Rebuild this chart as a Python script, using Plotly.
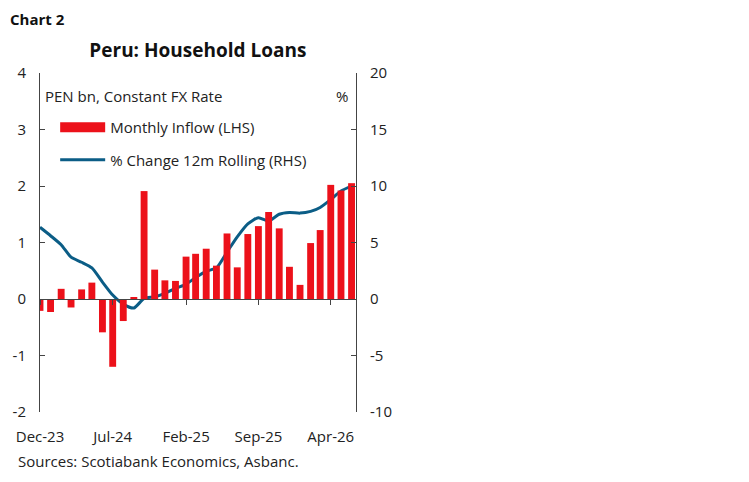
import pandas as pd
import plotly.graph_objects as go

# Monthly data, Dec-23 .. Jun-26
months = pd.date_range("2023-12-01", periods=31, freq="MS")

monthly_inflow = [
    -0.21, -0.23, 0.18, -0.15, 0.17, 0.29, -0.59, -1.20, -0.39, 0.02,
    1.91, 0.52, 0.33, 0.32, 0.75, 0.80, 0.89, 0.59, 1.16, 0.56,
    1.15, 1.29, 1.54, 1.25, 0.57, 0.25, 0.99, 1.22, 2.02, 1.92,
    2.05,
]

pct_change_12m = [
    6.35, 5.6, 4.8, 3.7, 3.25, 2.75, 1.5, 0.35, -0.45, -0.8,
    0.05, 0.2, 0.5, 0.95, 1.3, 1.9, 2.45, 2.75, 4.15, 5.5,
    6.65, 7.2, 6.9, 7.5, 7.65, 7.6, 7.75, 8.1, 8.8, 9.55,
    10.0,
]

lhs_ticks = [-2, -1, 0, 1, 2, 3, 4]
rhs_ticks = [-10, -5, 0, 5, 10, 15, 20]
x_range = ["2023-12-01", "2026-06-14"]

RED = "#EC111A"
BLUE = "#0B5D86"
AXIS = "#444444"
FONT = "Open Sans"

# page body adds an 8px offset, so the plot box is placed 8px up/left
PLOT_W, PLOT_H = 315.7, 339
ML, MT = 32, 65

fig = go.Figure()

# Bars sit on xaxis2 (the axis drawn along the zero line)
fig.add_trace(go.Bar(
    x=months, y=monthly_inflow,
    marker=dict(color=RED, line=dict(width=0)),
    xaxis="x2", yaxis="y",
    showlegend=False,
))

fig.add_trace(go.Scatter(
    x=months, y=pct_change_12m,
    mode="lines",
    line=dict(color=BLUE, width=3, shape="spline", smoothing=0.6),
    xaxis="x", yaxis="y2",
    showlegend=False,
))

# legend-only entries so the symbols look like the reference
fig.add_trace(go.Scatter(
    x=[None], y=[None], mode="lines",
    line=dict(color=RED, width=10),
    name="Monthly Inflow (LHS)", legendgroup="a",
))
fig.add_trace(go.Scatter(
    x=[None], y=[None], mode="lines",
    line=dict(color=BLUE, width=3),
    name="% Change 12m Rolling (RHS)", legendgroup="b",
))

zero_pos = (0 - lhs_ticks[0]) / (lhs_ticks[-1] - lhs_ticks[0])

fig.update_layout(
    width=749, height=482,
    margin=dict(l=ML, r=749 - ML - PLOT_W, t=MT, b=482 - MT - PLOT_H,
                autoexpand=False),
    paper_bgcolor="white", plot_bgcolor="white",
    font=dict(family=FONT, size=15, color="#222222"),
    bargap=0.28,
    xaxis=dict(
        type="date", range=x_range,
        tick0="2023-12-01", dtick="M7", tickformat="%b-%y",
        showline=False, showgrid=False, zeroline=False, ticks="",
        ticklabelstandoff=14, automargin=False,
    ),
    xaxis2=dict(
        type="date", matches="x", overlaying="x",
        anchor="free", position=zero_pos,
        tick0="2023-12-01", dtick="M7",
        showline=True, linecolor=AXIS, linewidth=1,
        ticks="outside", ticklen=5, tickcolor=AXIS,
        showticklabels=False, showgrid=False, zeroline=False,
        automargin=False,
    ),
    yaxis=dict(
        range=[lhs_ticks[0], lhs_ticks[-1]],
        tickvals=lhs_ticks, ticktext=[str(v) for v in lhs_ticks],
        showline=True, linecolor=AXIS, linewidth=1,
        ticks="inside", ticklen=5, tickcolor=AXIS,
        showgrid=False, zeroline=False,
        ticklabelstandoff=10, automargin=False,
    ),
    yaxis2=dict(
        range=[rhs_ticks[0], rhs_ticks[-1]],
        tickvals=rhs_ticks, ticktext=[str(v) for v in rhs_ticks],
        overlaying="y", side="right",
        showline=True, linecolor=AXIS, linewidth=1,
        ticks="inside", ticklen=5, tickcolor=AXIS,
        showgrid=False, zeroline=False,
        ticklabelstandoff=10, automargin=False,
    ),
    legend=dict(
        x=0.048, y=0.888, xanchor="left", yanchor="top",
        bgcolor="rgba(0,0,0,0)", font=dict(size=15),
        itemwidth=45, tracegroupgap=10, traceorder="grouped",
    ),
    title=dict(
        text="<b>Peru: Household Loans</b>",
        x=(ML + PLOT_W / 2) / 749, xanchor="center",
        y=1 - 42 / 482, yanchor="middle",
        font=dict(size=19, color="#111111"),
        automargin=False,
    ),
)

fig.add_annotation(
    text="<b>Chart 2</b>", xref="paper", yref="paper",
    x=-ML / PLOT_W, y=1 + 54 / PLOT_H, xanchor="left", yanchor="middle",
    showarrow=False, font=dict(size=15, color="#111111"),
)
fig.add_annotation(
    text="PEN bn, Constant FX Rate", xref="paper", yref="paper",
    x=0.01, y=(339 - 23) / PLOT_H, xanchor="left", yanchor="middle",
    showarrow=False,
)
fig.add_annotation(
    text="%", xref="paper", yref="paper",
    x=302 / PLOT_W, y=(339 - 23) / PLOT_H, xanchor="center", yanchor="middle",
    showarrow=False,
)
fig.add_annotation(
    text="Sources: Scotiabank Economics, Asbanc.", xref="paper", yref="paper",
    x=-24 / PLOT_W, y=-49 / PLOT_H, xanchor="left", yanchor="middle",
    showarrow=False,
)

fig.write_html("out.html")
